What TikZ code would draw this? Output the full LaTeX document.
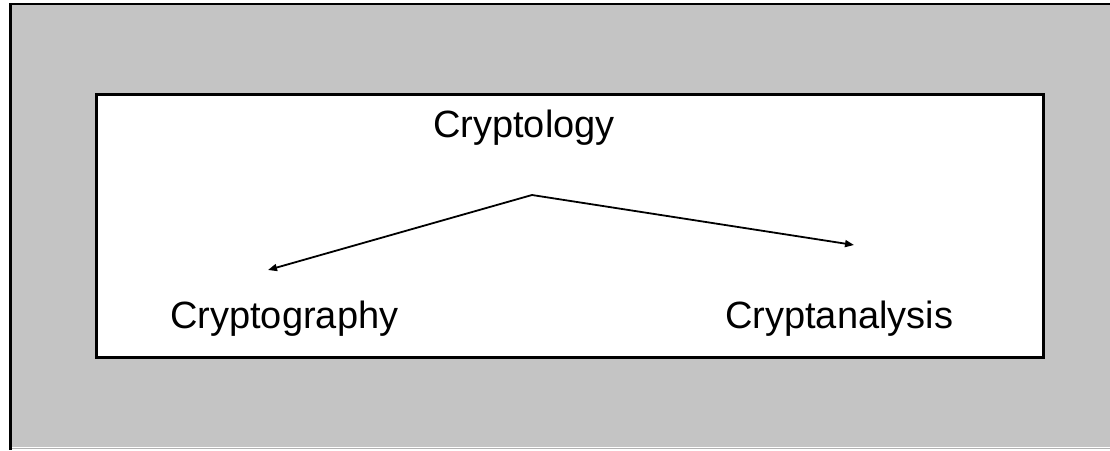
\documentclass[tikz,border=0pt]{standalone}
\usepackage{fontspec}
\setmainfont{Liberation Sans}
\usetikzlibrary{arrows.meta}
\definecolor{stipple}{RGB}{196,196,196}
\tikzset{
  label/.style={font=\fontsize{38}{44}\selectfont, inner sep=0pt, anchor=base west},
  link/.style={line width=1.8pt, -{Triangle[length=9pt,width=7pt]}},
  frame/.style={draw=black, line width=2.6pt, fill=white}
}
\begin{document}
\begin{tikzpicture}[x=1pt,y=-1pt]
\useasboundingbox (0,0) rectangle (1110,450);
\fill[white] (0,0) rectangle (1110,450);
\fill[stipple] (12,5) rectangle (1110,447);
\draw[line width=3pt] (10,3) -- (10,450);
\draw[line width=2.5pt] (9,4) -- (1110,4);
\draw[line width=1pt, gray!60] (12,448.5) -- (1110,448.5);
\node[frame, minimum width=947pt, minimum height=263pt, anchor=north west] (box) at (95,93) {};
\node[label] (top) at (433,137) {Cryptology};
\node[label] (left) at (170,328) {Cryptography};
\node[label] (right) at (725,328) {Cryptanalysis};
\coordinate (apex) at (532,195);
\coordinate (ltip) at (268,270);
\coordinate (rtip) at (854,245);
\draw[link] (apex) -- (ltip);
\draw[link] (apex) -- (rtip);
\end{tikzpicture}
\end{document}
